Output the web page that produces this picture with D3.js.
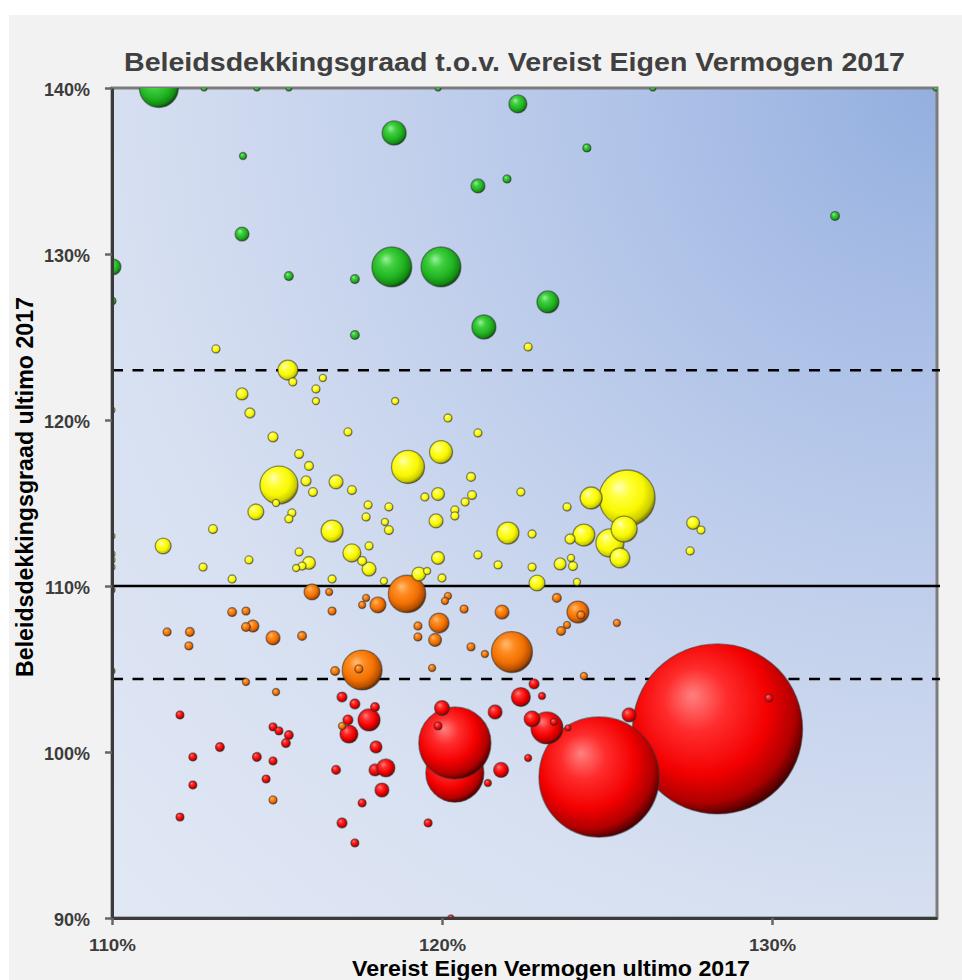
<!DOCTYPE html>
<html><head><meta charset="utf-8">
<script src="https://cdn.jsdelivr.net/npm/d3@7"></script>
<style>body{margin:0;background:#fff}svg{display:block}</style>
</head><body><svg id="c" width="962" height="980"></svg>
<script>
// ---- DATA ----
const title = "Beleidsdekkingsgraad t.o.v. Vereist Eigen Vermogen 2017";
const xTitle = "Vereist Eigen Vermogen ultimo 2017";
const yTitle = "Beleidsdekkingsgraad ultimo 2017";
const xTicks = [110, 120, 130];
const yTicks = [90, 100, 110, 120, 130, 140];
const xDomain = [110, 135];
const yDomain = [90, 140];
const refLevels = [123, 110, 104.4];
const refDashed = [true, false, true];

// Vereist Eigen Vermogen (%)
const vev = [
128.35,124.76,120.39,120.39,125.61,122.12,118.48,119.97,117.58,111.42,
115.06,118.94,118.97,123.18,125.09,125.52,118.55,121.27,119.97,123.21,
124.52,124.30,122.0,116.67,117.79,124.12,115.33,125.39,119.91,122.39,
122.30,117.27,117.18,117.97,114.36,111.55,122.88,110.03,116.06,118.06,
122.73,120.0,121.79,121.09,113.94,116.79,117.79,119.82,119.30,114.88,
121.82,121.61,125.67,118.18,119.88,115.97,127.61,119.88,119.79,113.94,
123.58,114.27,118.0,118.30,114.18,114.88,115.88,123.88,116.97,117.36,
117.15,122.79,116.97,131.91,115.36,117.36,117.36,115.67,115.97,116.09,
117.27,118.39,113.06,117.58,120.88,120.91,123.97,113.64,114.06,112.36,
115.76,116.76,123.48,123.61,117.97,115.36,115.27,113.27,114.39,116.79,
121.97,124.39,110.0,113.15,122.61,116.18,115.48,117.15,117.76,118.39,
115.45,115.36,117.70,115.67,117.79,115.76,114.15,112.76,113.64,116.67,
120.18,121.09,119.48,120.70,120.39,120.39,122.39,123.79,122.73,127.85,
127.52,121.09,121.70,122.73,120.0,114.06,116.67,111.67,112.33,119.27,
119.27,120.67,120.88,124.21,117.48,114.88,112.06,114.88,115.06,112.45,
114.88,114.67,112.45,117.58,112.06,119.58,117.36,119.88,129.91,113.97,
116.39,116.18,118.58,114.97,118.27,115.58,118.24,119.55,123.91,124.09,
116.58,117.70,117.58,114.06,114.97,116.97,120.18,120.09,125.30,123.79,
121.30,119.70,124.30,123.03,122.61,121.39,123.39,112.79,114.39,115.36,
119.88,126.39,134.97,110.0,110.0,110.0,110.0,110.0,110.0,110.0,
123.82,120.27];

// Beleidsdekkingsgraad (%)
const bdg = [
101.39,98.49,98.73,100.54,115.30,106.02,129.22,129.22,104.94,140.0,
116.08,109.52,117.17,101.45,112.59,113.43,137.29,125.60,118.07,127.11,
115.30,113.07,113.19,113.31,101.93,108.43,123.01,111.69,107.77,103.31,
139.04,111.99,101.08,98.92,114.46,112.41,110.18,129.22,109.64,108.86,
101.99,102.65,98.92,134.10,131.20,116.27,111.02,113.92,110.72,106.87,
108.43,102.41,102.23,97.71,115.54,111.39,113.80,111.69,106.75,121.57,
111.33,107.59,100.30,99.04,120.42,118.98,116.33,112.83,103.31,102.89,
101.93,104.10,95.72,132.29,128.67,128.49,125.12,117.95,117.23,115.66,
115.78,113.37,113.43,111.51,116.57,115.48,111.20,108.43,107.53,107.23,
106.99,104.88,109.28,107.29,102.71,101.02,100.54,100.30,99.70,98.92,
134.52,136.39,127.17,124.28,124.40,121.87,122.29,119.28,114.88,114.76,
114.40,114.04,114.16,112.05,112.41,111.20,111.57,111.14,110.42,110.42,
120.12,119.22,115.36,115.06,114.58,114.22,115.66,114.76,113.13,113.37,
112.11,111.87,111.27,111.14,110.48,108.49,108.49,107.23,106.39,107.59,
106.93,108.61,106.33,108.25,105.0,97.11,102.23,101.51,101.27,99.70,
99.46,98.37,98.01,96.93,96.08,95.72,94.52,101.57,103.25,135.90,
122.53,121.14,121.14,115.0,113.86,111.08,110.30,110.90,111.69,110.24,
109.64,109.28,108.86,104.22,103.61,101.57,109.40,109.10,107.77,107.65,
105.90,105.06,104.58,103.37,99.64,98.13,101.81,140,140,140,
140,140,140,120.60,113.01,111.93,111.57,111.14,109.76,104.88,
101.45,90.0];

// Belegd vermogen (mld euro) -> bubble area
const vermogen = [
400,200,46.7,72,43.5,23.3,22,22,22,21,
20,19.4,15.1,14.2,10.9,9.4,8,8,7.3,6.7,
6.7,6.7,6.7,6.7,6.7,6.7,5.5,5.5,5.5,5,
4.5,4.5,4.5,2,3.5,3.5,3.5,3.5,3.5,3.5,
3.5,3.1,3.1,2.7,2.7,2.7,2.7,2.7,2.7,2.7,
2.7,2.7,2.7,2.7,2.3,2.3,2.3,2.3,2.3,2,
2,2,2,4.5,1.4,1.4,1.4,1.4,1.4,1.4,
1.4,1.4,1.4,1.1,1.1,1.1,1.1,1.1,1.1,1.1,
1.1,1.1,1.1,1.1,1.1,1.1,1.1,1.1,1.1,1.1,
1.1,1.1,1.1,1.1,1.1,1.1,1.1,1.1,1.1,1.1,
0.9,0.9,0.9,0.9,0.9,0.9,0.9,0.9,0.9,0.9,
0.9,0.9,0.9,0.9,0.9,0.9,0.9,0.9,0.9,0.9,
0.9,0.9,0.9,0.9,0.9,0.9,0.9,0.9,0.9,0.9,
0.9,0.9,0.9,0.9,0.9,0.9,0.9,0.9,0.9,0.9,
0.9,0.9,0.9,0.9,0.9,0.9,0.9,0.9,0.9,0.9,
0.9,0.9,0.9,0.9,0.9,0.9,0.9,0.9,0.9,0.7,
0.7,0.7,0.7,0.7,0.7,0.7,0.7,0.7,0.7,0.7,
0.7,0.7,0.7,0.7,0.7,0.7,0.7,0.7,0.7,0.7,
0.7,0.7,0.7,0.7,0.7,0.7,0.7,0.5,0.5,0.5,
0.5,0.5,0.5,0.5,0.5,0.5,0.5,0.5,0.5,0.5,
0.5,0.5];

// Status: G = groen, Y = geel, O = oranje, R = rood
const status = (
"RRRRYOGGOG"+"YOYRYYGGYG"+"YYYYROYYOR"+"GYRRYYYGOO"+"RRRGGYYYYO"+
"ORRRYYYYOY"+"YORRYYYYRR"+"RRRGGGGYYY"+"YYYYYYYOOO"+"OOOORRRRRR"+
"GGGYYYYYYY"+"YYYYYYYYYY"+"YYYYYYYYYY"+"YYYYYOOOOO"+"OOOOOORRRR"+
"RRRRRRRRRG"+"YYYYYYYYYY"+"OOOOOOOOOO"+"OOORRRRGGG"+"GGGYYYYYOO"+
"RR").split("");

const statusColors = {
  G: ["#9af09a","#40d040","#22b422","#148a14","#064406"],
  Y: ["#ffffb8","#ffff38","#f8f800","#cccc00","#6a6a00"],
  O: ["#ffbd78","#ff8c22","#f07000","#b44e00","#582600"],
  R: ["#ff8080","#ff2c2c","#f30000","#ae0000","#460000"]
};

// ---- CHART ----
const svg = d3.select("#c");
const W = 962, H = 980;
const x = d3.scaleLinear().domain(xDomain).range([112, 937]);
const y = d3.scaleLinear().domain(yDomain).range([918, 88]);
const r = d3.scaleSqrt().domain([0, 400]).range([0, 85]);
const font = '"Liberation Sans", Arial, Helvetica, sans-serif';

const defs = svg.append("defs");
const bg = defs.append("radialGradient").attr("id", "bg")
  .attr("cx", 1).attr("cy", 0).attr("r", 1.5).attr("fx", 1).attr("fy", 0);
[[0,"#93afdf"],[0.22,"#adc1e7"],[0.47,"#c6d3ed"],[0.67,"#d7e0f1"],[0.94,"#e1e8f5"],[1,"#e2e9f5"]]
  .forEach(s => bg.append("stop").attr("offset", s[0]).attr("stop-color", s[1]));

Object.keys(statusColors).forEach(k => {
  const g = defs.append("radialGradient").attr("id", "ball" + k)
    .attr("cx", 0.42).attr("cy", 0.4).attr("r", 0.62).attr("fx", 0.35).attr("fy", 0.3);
  const offs = [0, 0.3, 0.65, 0.88, 1];
  statusColors[k].forEach((c, i) => g.append("stop").attr("offset", offs[i]).attr("stop-color", c));
});

const [x0, x1] = x.range();
const [y1, y0] = y.range();
defs.append("clipPath").attr("id", "plotclip").append("rect")
  .attr("x", x0).attr("y", y0).attr("width", x1 - x0).attr("height", y1 - y0);

// page background
svg.append("rect").attr("x", 9).attr("y", 15).attr("width", W - 9).attr("height", H - 15).attr("fill", "#f2f2f2");

// plot area
svg.append("rect").attr("x", x0).attr("y", y0).attr("width", x1 - x0).attr("height", y1 - y0)
  .attr("fill", "url(#bg)").attr("stroke", "#7c7c7c").attr("stroke-width", 3);

// reference lines
svg.append("g").selectAll("line").data(refLevels).join("line")
  .attr("x1", x0).attr("x2", x1 + 3)
  .attr("y1", d => y(d)).attr("y2", d => y(d))
  .attr("stroke", "#000").attr("stroke-width", 2.6)
  .attr("stroke-dasharray", (d, i) => refDashed[i] ? "11,9.5" : null);

// bubbles
const data = vev.map((v, i) => ({ x: v, y: bdg[i], s: vermogen[i], c: status[i] }));
svg.append("g").attr("clip-path", "url(#plotclip)")
  .selectAll("circle").data(data).join("circle")
  .attr("cx", d => x(d.x)).attr("cy", d => y(d.y)).attr("r", d => r(d.s))
  .attr("fill", d => "url(#ball" + d.c + ")")
  .attr("stroke", "rgba(55,55,55,0.55)").attr("stroke-width", 1.3);

// axes
const yAxis = svg.append("g").attr("transform", `translate(${x0},0)`)
  .call(d3.axisLeft(y).tickValues(yTicks).tickFormat(d => d + "%").tickSize(7).tickSizeOuter(0).tickPadding(15));
const xAxis = svg.append("g").attr("transform", `translate(0,${y1})`)
  .call(d3.axisBottom(x).tickValues(xTicks).tickFormat(d => d + "%").tickSize(7).tickSizeOuter(0).tickPadding(15));
[yAxis, xAxis].forEach(a => {
  a.select(".domain").attr("stroke", "#3a3a3a").attr("stroke-width", 3);
  a.selectAll(".tick line").attr("stroke", "#666").attr("stroke-width", 2.5);
  a.selectAll(".tick text").attr("fill", "#3c3c3c")
    .style("font-family", font).style("font-weight", "bold");
});
yAxis.selectAll(".tick text").style("font-size", "18px").attr("dy", "0.39em");
xAxis.selectAll(".tick text").style("font-size", "16px")
  .attr("textLength", 47).attr("lengthAdjust", "spacingAndGlyphs");

// titles
svg.append("text").attr("x", 124).attr("y", 71)
  .attr("textLength", 781).attr("lengthAdjust", "spacingAndGlyphs")
  .style("font-family", font).style("font-weight", "bold").style("font-size", "26px")
  .attr("fill", "#404040").text(title);

svg.append("text").attr("x", 352).attr("y", 975.5)
  .attr("textLength", 398).attr("lengthAdjust", "spacingAndGlyphs")
  .style("font-family", font).style("font-weight", "bold").style("font-size", "22px")
  .attr("fill", "#000").text(xTitle);

svg.append("text").attr("transform", "translate(33,487) rotate(-90)")
  .attr("text-anchor", "middle")
  .attr("textLength", 380).attr("lengthAdjust", "spacingAndGlyphs")
  .style("font-family", font).style("font-weight", "bold").style("font-size", "24px")
  .attr("fill", "#000").text(yTitle);
</script></body></html>
